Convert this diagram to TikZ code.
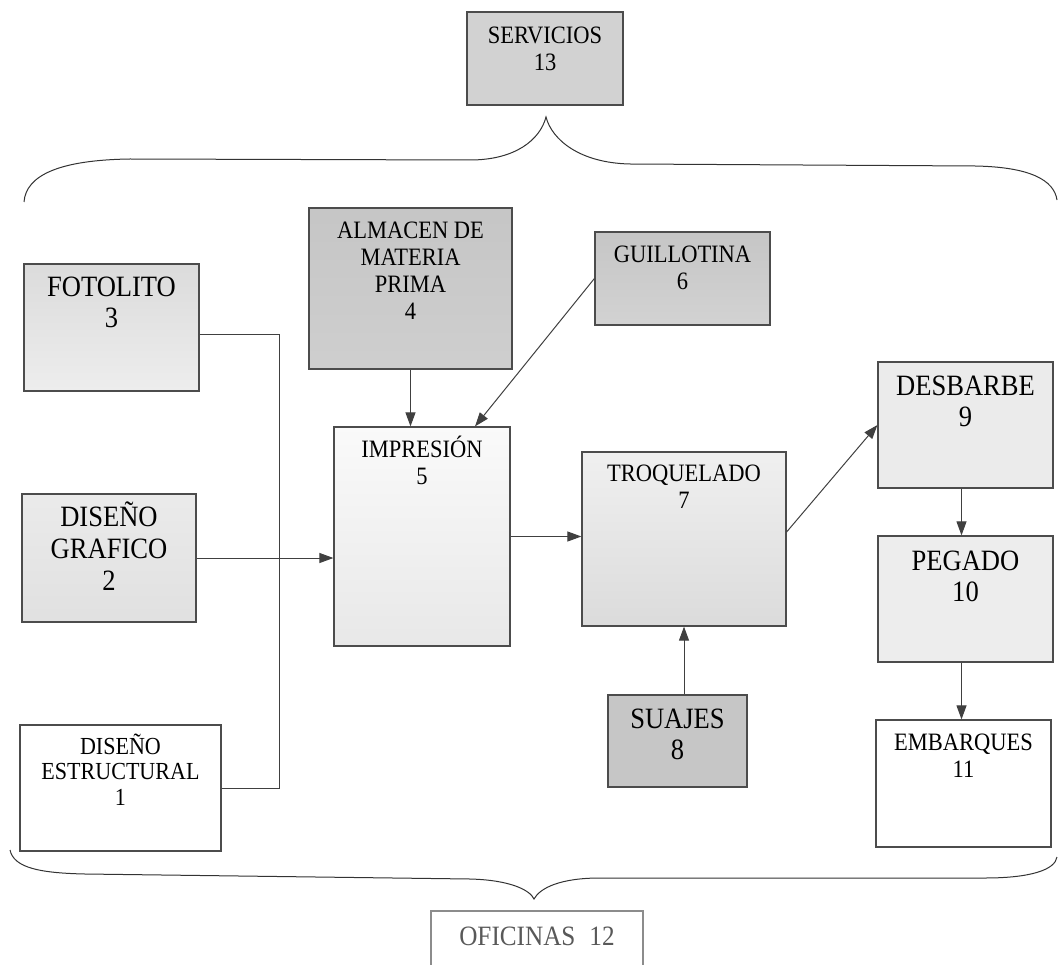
\documentclass[tikz,border=0pt]{standalone}
\usepackage{fontspec}
\setmainfont{Liberation Serif}[FakeStretch=0.9]
\usetikzlibrary{positioning,arrows.meta}

\tikzset{
  area/.style={draw=black!70, line width=1.2pt, inner sep=0pt},
  caption/.style={align=center, inner sep=0pt, font=\fontsize{25}{27}\selectfont},
  bigcaption/.style={align=center, inner sep=0pt, font=\fontsize{29.5}{31}\selectfont},
  flow/.style={draw=black!75, line width=1pt, -{Triangle[length=14pt,width=10pt]}},
  wire/.style={draw=black!75, line width=1pt},
  brace/.style={draw=black!80, line width=1pt}
}

\begin{document}
\begin{tikzpicture}[x=1pt, y=-1pt]
    \useasboundingbox (0,0) rectangle (1059,965);

    % Servicios, on top of the brace
    \node[area, fill=gray!35, minimum width=156pt, minimum height=93pt] (servicios) at (545,58.5) {};
    \node[caption, below=15pt of servicios.north] {SERVICIOS\\13};

    % Upper brace
    \draw[brace] (24,202) .. controls (26,175) and (60,160) .. (130,159)
        -- (470,160) .. controls (515,160) and (540,140) .. (546,117)
        .. controls (552,140) and (580,163) .. (630,164)
        -- (975,166) .. controls (1030,167) and (1054,180) .. (1057,200);

    % Left column
    \node[area, top color=gray!28, bottom color=gray!14, minimum width=175pt, minimum height=127pt] (fotolito) at (111.5,327.5) {};
    \node[bigcaption, below=13pt of fotolito.north] {FOTOLITO\\3};

    \node[area, top color=gray!16, bottom color=gray!24, minimum width=174pt, minimum height=128pt] (grafico) at (109,558) {};
    \node[bigcaption, font=\fontsize{29.5}{32}\selectfont, below=8pt of grafico.north] {DISEÑO\\GRAFICO\\2};

    \node[area, fill=white, minimum width=201pt, minimum height=126pt] (estructural) at (120.5,788) {};
    \node[caption, font=\fontsize{24.5}{25.5}\selectfont, below=9pt of estructural.north] {DISEÑO\\ESTRUCTURAL\\1};

    % Supplies and printing
    \node[area, top color=gray!45, middle color=gray!78, bottom color=gray!38, minimum width=203pt, minimum height=161pt] (almacen) at (410.5,288.5) {};
    \node[caption, below=14pt of almacen.north] {ALMACEN DE\\MATERIA\\PRIMA\\4};

    \node[area, top color=gray!45, middle color=gray!82, bottom color=gray!35, minimum width=175pt, minimum height=93pt] (guillotina) at (682.5,278.5) {};
    \node[caption, below=14pt of guillotina.north] {GUILLOTINA\\6};

    \node[area, top color=gray!4, bottom color=gray!18, minimum width=176pt, minimum height=219pt] (impresion) at (422,536.5) {};
    \node[caption, below=9pt of impresion.north] {IMPRESIÓN\\5};

    \node[area, top color=gray!12, bottom color=gray!28, minimum width=204pt, minimum height=174pt] (troquelado) at (684,539) {};
    \node[caption, below=13pt of troquelado.north] {TROQUELADO\\7};

    \node[area, fill=gray!45, minimum width=139pt, minimum height=92pt] (suajes) at (677.5,741) {};
    \node[bigcaption, below=14pt of suajes.north] {SUAJES\\8};

    % Right column
    \node[area, fill=gray!16, minimum width=175pt, minimum height=126pt] (desbarbe) at (965.5,425) {};
    \node[bigcaption, below=14pt of desbarbe.north] {DESBARBE\\9};

    \node[area, top color=gray!14, middle color=gray!30, bottom color=gray!14, minimum width=175pt, minimum height=126pt] (pegado) at (965.5,599) {};
    \node[bigcaption, below=15pt of pegado.north] {PEGADO\\10};

    \node[area, fill=white, minimum width=175pt, minimum height=127pt] (embarques) at (963.5,783.5) {};
    \node[caption, below=14pt of embarques.north] {EMBARQUES\\11};

    % Connectors
    \coordinate (bus) at (279,0);
    \draw[wire] ([yshift=-7pt]fotolito.east) -| (bus |- estructural.east) -- (estructural.east);
    \draw[flow] (grafico.east) -- (grafico.east -| impresion.west);
    \draw[flow] (almacen.south) -- (almacen.south |- impresion.north);
    \draw[flow] (guillotina.west) -- ([xshift=53pt]impresion.north);
    \draw[flow] (impresion.east) -- (impresion.east -| troquelado.west);
    \draw[flow] (suajes.north -| troquelado.south) -- (troquelado.south);
    \draw[flow] ([yshift=7pt]troquelado.east) -- (desbarbe.west);
    \draw[flow] ([xshift=-4pt]desbarbe.south) -- ([xshift=-4pt]pegado.north);
    \draw[flow] ([xshift=-4pt]pegado.south) -- ([xshift=-4pt]pegado.south |- embarques.north);

    % Lower brace
    \draw[brace] (10,850) .. controls (14,868) and (40,873) .. (85,874)
        -- (470,879) .. controls (510,880) and (530,890) .. (534,899)
        .. controls (540,888) and (560,878) .. (600,878)
        -- (985,878) .. controls (1030,878) and (1055,870) .. (1057,857);

    % Oficinas, below the brace
    \node[area, draw=black!45, fill=white, minimum width=212pt, minimum height=64pt] (oficinas) at (537,943) {};
    \node[caption, text=black!65, font=\fontsize{28}{30}\selectfont] at ([yshift=7pt]oficinas.center) {OFICINAS\enspace 12};
\end{tikzpicture}
\end{document}
